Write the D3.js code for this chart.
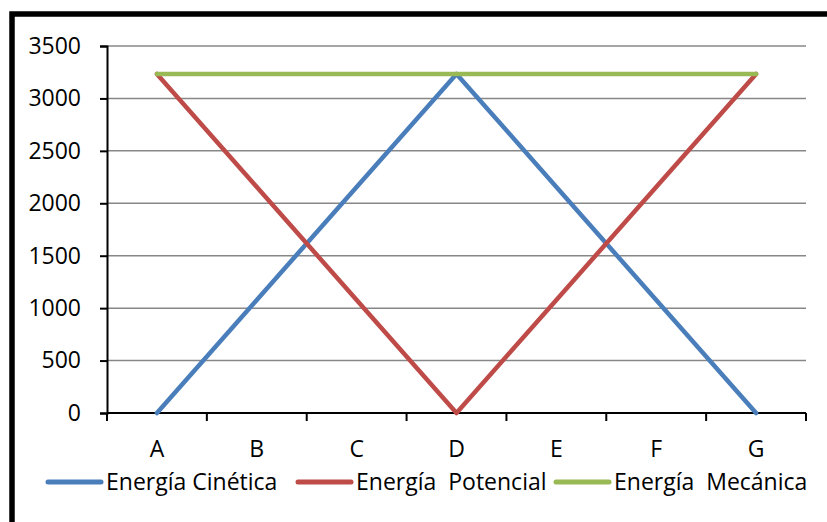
<!DOCTYPE html>
<html><head><meta charset="utf-8">
<script src="https://cdn.jsdelivr.net/npm/d3@7"></script>
<style>body{margin:0;background:#fff}svg{display:block}</style>
</head><body>
<svg id="c" width="827" height="522"></svg>
<script>
const categories = ["A","B","C","D","E","F","G"];
const cinetica   = [0, 1078, 2156, 3234, 2156, 1078, 0];
const potencial  = [3234, 2156, 1078, 0, 1078, 2156, 3234];
const mecanica   = [3234, 3234, 3234, 3234, 3234, 3234, 3234];
const yTicks = [0, 500, 1000, 1500, 2000, 2500, 3000, 3500];
const seriesNames = ["Energía Cinética", "Energía  Potencial", "Energía  Mecánica"];
const colors = ["#4A7EBB", "#BE4B48", "#98B954"];

const svg = d3.select("#c");
const font = "'Open Sans', sans-serif";
const fs = 23;
const L = 107, R = 806, T = 46, B = 413;

svg.append("rect").attr("x", 12).attr("y", 14).attr("width", 900).attr("height", 600)
  .attr("fill", "#fff").attr("stroke", "#000").attr("stroke-width", 5.5);

const x = d3.scaleBand().domain(categories).range([L, R]);
const y = d3.scaleLinear().domain([0, 3500]).range([B, T]);

// gridlines
svg.append("g").selectAll("line").data(yTicks.filter(d => d > 0)).join("line")
  .attr("x1", L).attr("x2", R).attr("y1", d => y(d)).attr("y2", d => y(d))
  .attr("stroke", "#878787").attr("stroke-width", 1.5);

// y axis
const ya = svg.append("g").attr("transform", `translate(${L},0)`)
  .call(d3.axisLeft(y).tickValues(yTicks).tickSize(7).tickPadding(19).tickFormat(d3.format("d")));
ya.attr("font-size", fs).attr("font-family", font);
ya.select(".domain").attr("stroke", "#000").attr("stroke-width", 2);
ya.selectAll(".tick line").attr("stroke", "#000").attr("stroke-width", 2);
ya.selectAll("text").attr("font-family", font).attr("font-size", fs).attr("fill", "#000");

// x axis ticks between categories
const xa = svg.append("g").attr("transform", `translate(0,${B})`);
xa.append("line").attr("x1", L).attr("x2", R).attr("stroke", "#000").attr("stroke-width", 2);
const bounds = categories.map(c => x(c)).concat([R]);
xa.selectAll(".t").data(bounds).join("line").attr("class", "t")
  .attr("x1", d => d).attr("x2", d => d).attr("y1", 0).attr("y2", 8)
  .attr("stroke", "#000").attr("stroke-width", 2);
xa.selectAll("text").data(categories).join("text")
  .attr("x", d => x(d) + x.bandwidth() / 2).attr("y", 44)
  .attr("text-anchor", "middle").attr("font-family", font).attr("font-size", fs).text(d => d);

// lines
const line = d3.line().x((d, i) => x(categories[i]) + x.bandwidth() / 2).y(d => y(d));
[cinetica, potencial, mecanica].forEach((s, i) => {
  svg.append("path").datum(s).attr("d", line).attr("fill", "none")
    .attr("stroke", colors[i]).attr("stroke-width", 4.5)
    .attr("stroke-linejoin", "round").attr("stroke-linecap", "round");
});

// legend
const legX = [48, 298, 556];
const leg = svg.append("g");
seriesNames.forEach((n, i) => {
  leg.append("line").attr("x1", legX[i]).attr("x2", legX[i] + 53).attr("y1", 482).attr("y2", 482)
    .attr("stroke", colors[i]).attr("stroke-width", 5).attr("stroke-linecap", "round");
  leg.append("text").attr("x", legX[i] + 58).attr("y", 490).attr("font-family", font)
    .attr("font-size", fs).attr("xml:space", "preserve").style("white-space", "pre").text(n);
});
</script>
</body></html>
